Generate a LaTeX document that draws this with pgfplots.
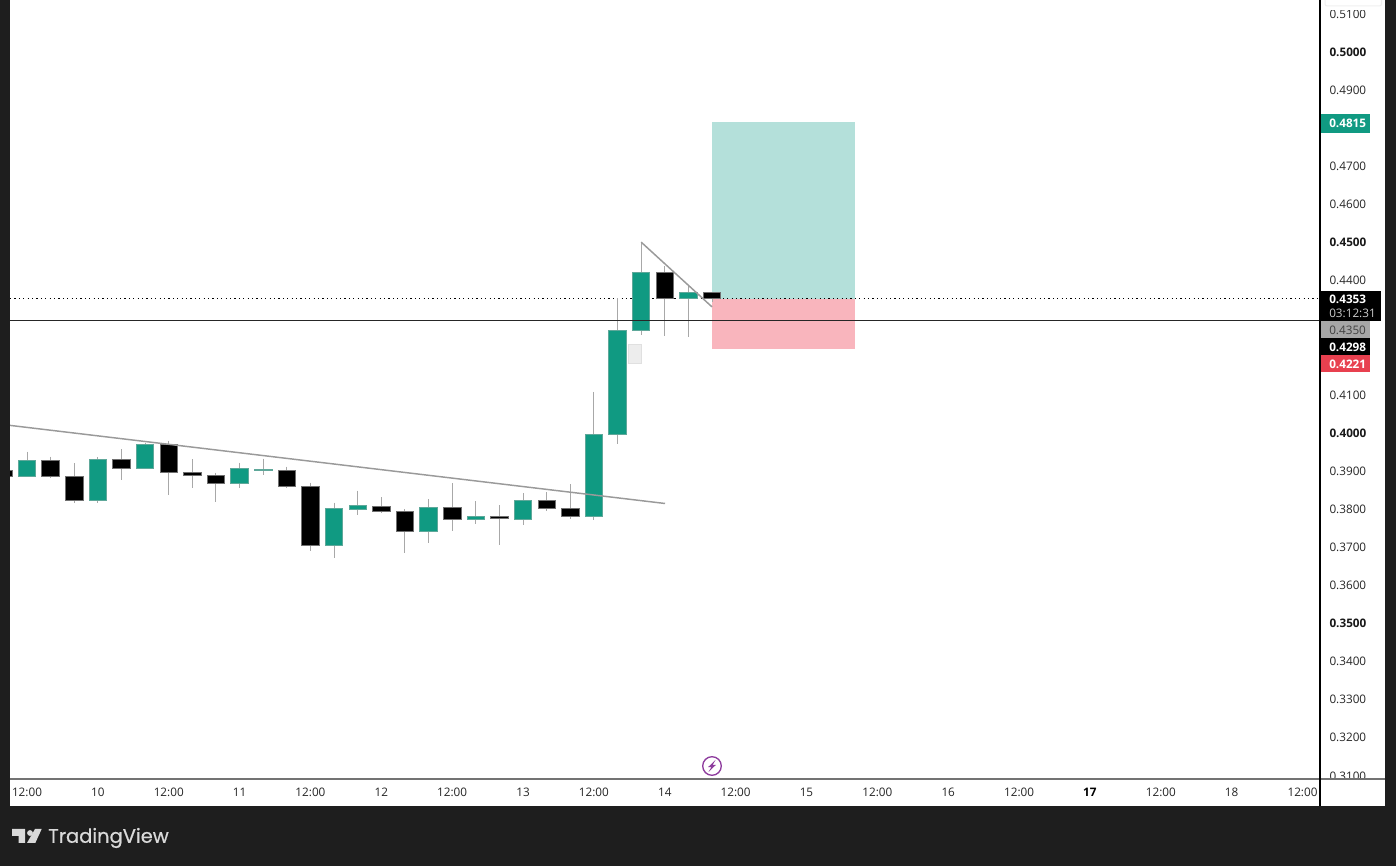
\documentclass[border=0pt]{standalone}
\usepackage{fontspec}
\setmainfont{Open Sans}
\newfontfamily\tvfont[FakeBold=0.6]{Poppins}
\usepackage{pgfplots}
\pgfplotsset{compat=1.18}
\definecolor{frame}{HTML}{1E1E1E}
\definecolor{up}{HTML}{109A82}
\definecolor{upedge}{HTML}{5FA89A}
\definecolor{downedge}{HTML}{707070}
\definecolor{wick}{HTML}{A8A8A8}
\definecolor{tp}{HTML}{B4E0DA}
\definecolor{sl}{HTML}{F9B5BD}
\definecolor{trend}{HTML}{9A9A9A}
\definecolor{lbl}{HTML}{262626}
\definecolor{redl}{HTML}{E8404F}
\definecolor{greyl}{HTML}{A6A6A6}
\definecolor{purp}{HTML}{8E3C9E}
\newcommand\tfont{\fontsize{8.8pt}{10pt}\selectfont}
\newcommand\candle[6]{%
  \pgfmathsetmacro\xa{#2-0.37}\pgfmathsetmacro\xb{#2+0.37}%
  \addplot[wick,line width=0.75pt] coordinates {(#2,#3) (#2,#4)};
  \addplot[fill=#1,draw=#1edge,line width=0.6pt] coordinates {(\xa,#5) (\xb,#5) (\xb,#6) (\xa,#6)} --cycle;
}
\colorlet{blackedge}{downedge}
\pgfplotsset{base/.style={
  at={(7.5pt,65.25pt)},anchor=south west,scale only axis,
  width=982.5pt,height=584.25pt,
  xmin=-0.72,xmax=54.74,ymin=0.30919,ymax=0.51365,
  axis line style={draw=none},major tick length=0pt,minor tick length=0pt,
  scaled y ticks=false}}
\begin{document}
\begin{tikzpicture}
\useasboundingbox (0pt,0pt) rectangle (1047pt,649.5pt);
\begin{scope}[x=.75pt,y=-.75pt,shift={(0pt,649.5pt)}]
\fill[frame] (0,0) rectangle (1396,866);
\fill[white] (10,0) rectangle (1385,806);
\end{scope}
% price scale
\begin{axis}[base,clip=false,xtick=\empty,
  yticklabel pos=right,
  ytick={0.31,0.32,0.33,0.34,0.36,0.37,0.38,0.39,0.41,0.44,0.46,0.47,0.49,0.51},
  extra y ticks={0.35,0.40,0.45,0.50},
  extra y tick style={yticklabel style={/tikz/font=\tfont\bfseries,/tikz/text=black!90}},
  /pgf/number format/fixed,/pgf/number format/fixed zerofill,/pgf/number format/precision=4,
  /pgf/number format/assume math mode=true,
  yticklabel style={anchor=west,xshift=3.6pt,font=\tfont,text=lbl}]
\addplot[draw=none] coordinates {(0,0.4) (1,0.4)};
\end{axis}
\begin{scope}[x=.75pt,y=-.75pt,shift={(0pt,649.5pt)}]
\fill[white] (10,779) rectangle (1385,806);
\fill[white] (1322,0) rectangle (1385,9.6);
\draw[black!6,line width=.75pt,rounded corners=1.5pt] (1325,-3) rectangle (1381.5,6);
\end{scope}
% chart
\begin{axis}[base,
  ytick=\empty,
  xtick={0,3,6,9,12,15,18,21,24,27,30,33,36,39,42,48,51,54},
  xticklabels={12:00,10,12:00,11,12:00,12,12:00,13,12:00,14,12:00,15,12:00,16,12:00,12:00,18,12:00},
  xticklabel style={font=\tfont,text=lbl,yshift=-3.1pt},
  extra x ticks={45},extra x tick labels={\bfseries 17},
  extra x tick style={xticklabel style={text=black}}]
% position tool
\addplot[fill=tp,draw=none] coordinates {(29,0.4815) (35.05,0.4815) (35.05,0.4352) (29,0.4352)} --cycle;
\addplot[fill=sl,draw=none] coordinates {(29,0.4352) (35.05,0.4352) (35.05,0.4221) (29,0.4221)} --cycle;
% small shaded box
\addplot[fill=black!7,draw=black!12,line width=.4pt] coordinates {(25.47,0.4234) (26.02,0.4234) (26.02,0.4183) (25.47,0.4183)} --cycle;
% price lines
\addplot[black,dash pattern=on .9pt off 2.4pt,line width=.9pt] coordinates {(-0.72,0.4353) (54.74,0.4353)};
% candles: colour, index, high, low, body top, body bottom
\candle{black}{-1}{0.3908}{0.3882}{0.3903}{0.3887}
\candle{up}{0}{0.3951}{0.3885}{0.3929}{0.3887}
\candle{black}{1}{0.3938}{0.3881}{0.3929}{0.3887}
\candle{black}{2}{0.3921}{0.3817}{0.3887}{0.3822}
\candle{up}{3}{0.3937}{0.3816}{0.3932}{0.3822}
\candle{black}{4}{0.3958}{0.3877}{0.3932}{0.3908}
\candle{up}{5}{0.3975}{0.3905}{0.3969}{0.3908}
\candle{black}{6}{0.3980}{0.3836}{0.3969}{0.3896}
\candle{black}{7}{0.3931}{0.3855}{0.3896}{0.3890}
\candle{black}{8}{0.3896}{0.3820}{0.3890}{0.3869}
\candle{up}{9}{0.3922}{0.3855}{0.3906}{0.3869}
\candle{up}{10}{0.3933}{0.3889}{0.3905}{0.3903}
\candle{black}{11}{0.3912}{0.3855}{0.3903}{0.3861}
\candle{black}{12}{0.3870}{0.3691}{0.3861}{0.3706}
\candle{up}{13}{0.3817}{0.3671}{0.3801}{0.3706}
\candle{up}{14}{0.3849}{0.3786}{0.3809}{0.3800}
\candle{black}{15}{0.3831}{0.3791}{0.3808}{0.3795}
\candle{black}{16}{0.3800}{0.3684}{0.3795}{0.3743}
\candle{up}{17}{0.3826}{0.3712}{0.3806}{0.3743}
\candle{black}{18}{0.3868}{0.3744}{0.3806}{0.3774}
\candle{up}{19}{0.3821}{0.3761}{0.3782}{0.3774}
\candle{black}{20}{0.3810}{0.3707}{0.3782}{0.3776}
\candle{up}{21}{0.3842}{0.3759}{0.3822}{0.3774}
\candle{black}{22}{0.3845}{0.3796}{0.3822}{0.3803}
\candle{black}{23}{0.3866}{0.3774}{0.3803}{0.3780}
\candle{up}{24}{0.4108}{0.3772}{0.3997}{0.3780}
\candle{up}{25}{0.4354}{0.3971}{0.4270}{0.3997}
\candle{up}{26}{0.4499}{0.4257}{0.4421}{0.4270}
\candle{black}{27}{0.4438}{0.4255}{0.4421}{0.4354}
\candle{up}{28}{0.4388}{0.4251}{0.4370}{0.4354}
\candle{black}{29}{0.4370}{0.4345}{0.4370}{0.4354}
% drawn lines
\addplot[trend,line width=1.1pt] coordinates {(-0.72,0.4020) (27.01,0.3815)};
\addplot[trend,line width=1.1pt] coordinates {(26,0.4501) (29,0.4331)};
\addplot[black!85,line width=.85pt] coordinates {(-0.72,0.4295) (54.74,0.4295)};
\end{axis}
\begin{scope}[x=.75pt,y=-.75pt,shift={(0pt,649.5pt)}]
\draw[black!55,line width=1pt] (10,779) -- (1385,779);
\draw[black,line width=.9pt] (1320,0) -- (1320,806);
\tikzset{pl/.style={anchor=west,font=\tfont,inner sep=0pt}}
\fill[up] (1320.5,114) rectangle (1370,133);
\node[pl,text=white,font=\tfont\bfseries] at (1329,123.5) {0.4815};
\fill[black] (1320.5,290.7) rectangle (1381,321);
\node[pl,text=white,font=\tfont\bfseries] at (1329,299) {0.4353};
\node[pl,text=black!20] at (1329,313) {03:12:31};
\fill[greyl] (1320.5,321) rectangle (1370,338.3);
\node[pl,text=black!75] at (1329,330.5) {0.4350};
\fill[black] (1320.5,338.3) rectangle (1370,355.3);
\node[pl,text=white,font=\tfont\bfseries] at (1329,347) {0.4298};
\fill[redl] (1320.5,355.3) rectangle (1370,371.7);
\node[pl,text=white,font=\tfont\bfseries] at (1329,364.5) {0.4221};
% lightning icon
\draw[purp,line width=1pt,fill=white] (712,766) circle (9.3);
\fill[purp] (715.5,760) -- (708,767.2) -- (711.3,767.2) -- (708.5,772) -- (716,764.8) -- (712.7,764.8) -- cycle;
% logo
\fill[black!15] (12,829) -- (25,829) -- (25,843) -- (18.5,843) -- (18.5,836) -- (12,836) -- cycle;
\fill[black!15] (30,833) circle (2.9);
\fill[black!15] (35,829) -- (41.7,829) -- (35.3,843) -- (27,843) -- cycle;
\node[anchor=west,inner sep=0pt,text=black!15,font=\tvfont\fontsize{14.6pt}{16pt}\selectfont] at (48,838) {TradingView};
\end{scope}
\end{tikzpicture}
\end{document}
